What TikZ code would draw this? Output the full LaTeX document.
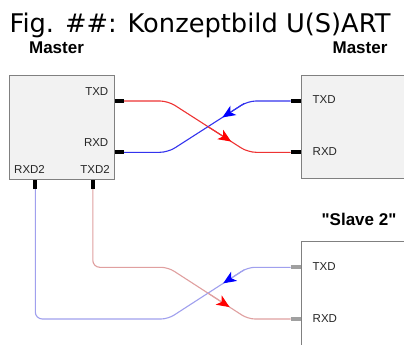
\documentclass[tikz,border=0pt]{standalone}
\usepackage{fontspec}
\setmainfont{Liberation Sans}
\newfontfamily\headfont{Liberation Sans}
\newfontfamily\titlefont{DejaVu Sans}
\usetikzlibrary{arrows.meta,calc}
\definecolor{boxfill}{HTML}{F2F2F2}
\definecolor{boxline}{HTML}{808080}
\definecolor{wred}{HTML}{EE3333}
\definecolor{wblue}{HTML}{3333EE}
\definecolor{fred}{HTML}{E0A0A0}
\definecolor{fblue}{HTML}{A0A0EE}
\definecolor{stubgray}{HTML}{A0A0A0}
\tikzset{
  device/.style={draw=boxline,fill=boxfill,line width=1pt,anchor=north west,inner sep=0},
  pin/.style={line width=4pt},
  lbl/.style={font=\fontsize{11.5}{12}\selectfont,inner sep=0,text=black!85},
  head/.style={font=\headfont\bfseries\fontsize{17}{18}\selectfont,inner sep=0,anchor=base},
  wire/.style={line width=1.1pt,rounded corners=8pt},
  tipred/.style={-{Stealth[length=13pt,width=11pt,inset=3.5pt,color=red]},line width=1.1pt},
  tipblue/.style={-{Stealth[length=13pt,width=11pt,inset=3.5pt,color=blue]},line width=1.1pt}
}
\begin{document}
\begin{tikzpicture}[x=1pt,y=-1pt]
\clip (0,0) rectangle (404,345);
\fill[white] (0,0) rectangle (404,345);
% title
\node[anchor=base,inner sep=0,font=\titlefont\fontsize{25.7}{28}\selectfont] (title) at (200,32.3) {Fig. \#\#: Konzeptbild U(S)ART};
% headings
\node[head] (hm1) at (56.5,53.3) {Master};
\node[head] (hm2) at (360,53.3) {Master};
\node[head] (hs2) at (359,225) {"Slave 2"};
% devices
\node[device,minimum width=104.7pt,minimum height=104pt] (m1) at (9.3,74.7) {};
\node[device,minimum width=115pt,minimum height=103.3pt] (m2) at (300.7,74.7) {};
\node[device,fill=white,minimum width=115pt,minimum height=115pt] (s2) at (300.7,241) {};
% pin ends
\coordinate (m1tx) at (124,101);
\coordinate (m1rx) at (124,152.3);
\coordinate (m1rx2) at (35.3,189);
\coordinate (m1tx2) at (92.8,189);
\coordinate (m2tx) at (290.7,101);
\coordinate (m2rx) at (290.7,152.3);
\coordinate (s2tx) at (290.7,267.3);
\coordinate (s2rx) at (290.7,319);
% pins
\draw[pin] (m1tx) -- (m1tx -| m1.east);
\draw[pin] (m1rx) -- (m1rx -| m1.east);
\draw[pin] (m1rx2) -- (m1rx2 |- m1.south);
\draw[pin] (m1tx2) -- (m1tx2 |- m1.south);
\draw[pin] (m2tx) -- (m2tx -| m2.west);
\draw[pin] (m2rx) -- (m2rx -| m2.west);
\draw[pin,stubgray] (s2tx) -- (s2tx -| s2.west);
\draw[pin,stubgray] (s2rx) -- (s2rx -| s2.west);
% labels
\node[lbl,anchor=base east] (l1) at (108.5,95) {TXD};
\node[lbl,anchor=base east] (l2) at (108.5,146.7) {RXD};
\node[lbl,anchor=base west] (l3) at (14,173.3) {RXD2};
\node[lbl,anchor=base east] (l4) at (110,173.3) {TXD2};
\node[lbl,anchor=base west] (l5) at (312.5,103.3) {TXD};
\node[lbl,anchor=base west] (l6) at (312.5,155) {RXD};
\node[lbl,anchor=base west] (l7) at (312.5,270.7) {TXD};
\node[lbl,anchor=base west] (l8) at (312.5,322.3) {RXD};
% bends
\coordinate (a1) at (168,101);
\coordinate (a2) at (248,152.3);
\coordinate (b1) at (248,101);
\coordinate (b2) at (168,152.3);
\coordinate (c0) at (92.8,267.3);
\coordinate (c1) at (168,267.3);
\coordinate (c2) at (248,319);
\coordinate (d0) at (35.3,319);
\coordinate (d1) at (168,319);
\coordinate (d2) at (248,267.3);
% top wires
\draw[wire,wred] (m1tx) -- (a1) -- (a2) -- (m2rx);
\draw[wire,wblue] (m2tx) -- (b1) -- (b2) -- (m1rx);
\draw[tipred,wred] ($(a1)!0.5!(a2)$) -- ($(a1)!0.79!(a2)$);
\draw[tipblue,wblue] ($(b1)!0.05!(b2)$) -- ($(b1)!0.32!(b2)$);
% bottom wires
\draw[wire,fred,rounded corners=7pt] (m1tx2) -- (c0) -- (c1) -- (c2) -- (s2rx);
\draw[wire,fblue,rounded corners=7pt] (m1rx2) -- (d0) -- (d1) -- (d2) -- (s2tx);
\draw[tipred,fred] ($(c1)!0.5!(c2)$) -- ($(c1)!0.77!(c2)$);
\draw[tipblue,fblue] ($(d2)!0.05!(d1)$) -- ($(d2)!0.31!(d1)$);
\end{tikzpicture}
\end{document}
